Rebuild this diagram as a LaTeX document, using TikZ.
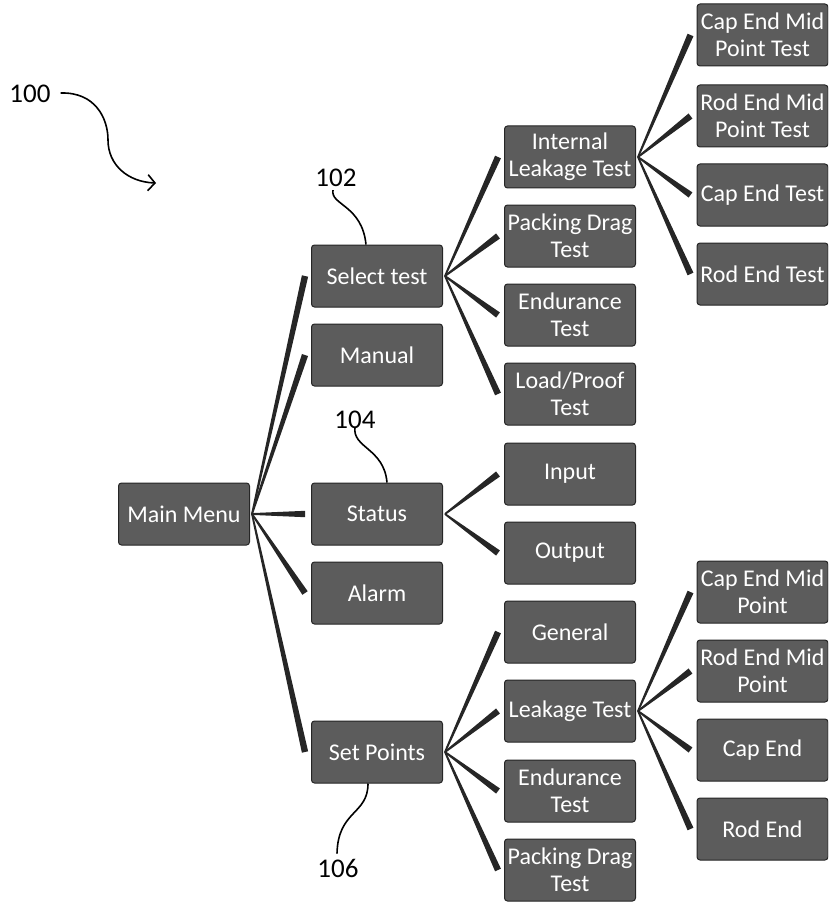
\documentclass[tikz,border=0pt]{standalone}
\usepackage{fontspec}
\setmainfont{Carlito}
\usetikzlibrary{calc,arrows.meta,positioning}

\tikzset{
    menubox/.style={draw=black!85, line width=1pt, fill=black!64, rounded corners=3pt,
        text=white, align=center, minimum width=131pt, minimum height=62pt,
        inner xsep=1pt, inner ysep=0pt, font=\fontsize{24}{27}\selectfont},
    reflabel/.style={font=\fontsize{27}{30}\selectfont, inner sep=0pt},
    leader/.style={line width=1.6pt, black}
}
\newcommand{\spoke}[2]{%
    \coordinate (sp-s) at ($(#1.east)+(2,0)$);
    \coordinate (sp-e) at ($(#2.west)+(-6,0)$);
    \fill[black!85] ($(sp-s)!0.9pt!90:(sp-e)$) -- ($(sp-e)!3.2pt!-90:(sp-s)$) -- ($(sp-e)!3.2pt!90:(sp-s)$) -- ($(sp-s)!0.9pt!-90:(sp-e)$) -- cycle;}

\begin{document}
\begin{tikzpicture}[x=1pt,y=-1pt]
        \useasboundingbox (0,0) rectangle (828,904);
        \clip (0,0) rectangle (828,904);

        \node [menubox] (main) at (184,514) {Main Menu};

        \node [menubox] (select) at (377,276) {Select test};
        \node [menubox] (manual) at (377,355) {Manual};
        \node [menubox] (status) at (377,514) {Status};
        \node [menubox] (alarm) at (377,593) {Alarm};
        \node [menubox] (setpts) at (377,752) {Set Points};

        \node [menubox] (ileak) at (570,157) {Internal\\Leakage Test};
        \node [menubox] (pdrag) at (570,236) {Packing Drag\\Test};
        \node [menubox] (endur) at (570,315) {Endurance\\Test};
        \node [menubox] (proof) at (570,394) {Load/Proof\\Test};
        \node [menubox] (input) at (570,474) {Input};
        \node [menubox] (output) at (570,553) {Output};
        \node [menubox] (general) at (570,632) {General};
        \node [menubox] (leak) at (570,711) {Leakage Test};
        \node [menubox] (endurb) at (570,791) {Endurance\\Test};
        \node [menubox] (pdragb) at (570,870) {Packing Drag\\Test};

        \node [menubox] (capmid) at (762.5,35) {Cap End Mid\\Point Test};
        \node [menubox] (rodmid) at (762.5,116) {Rod End Mid\\Point Test};
        \node [menubox] (capend) at (762.5,195) {Cap End Test};
        \node [menubox] (rodend) at (762.5,274) {Rod End Test};
        \node [menubox] (capmidb) at (762.5,592) {Cap End Mid\\Point};
        \node [menubox] (rodmidb) at (762.5,671) {Rod End Mid\\Point};
        \node [menubox] (capendb) at (762.5,750) {Cap End};
        \node [menubox] (rodendb) at (762.5,829) {Rod End};

        \foreach \b in {select,manual,status,alarm,setpts} {\spoke{main}{\b}}
        \foreach \b in {ileak,pdrag,endur,proof} {\spoke{select}{\b}}
        \foreach \b in {input,output} {\spoke{status}{\b}}
        \foreach \b in {general,leak,endurb,pdragb} {\spoke{setpts}{\b}}
        \foreach \b in {capmid,rodmid,capend,rodend} {\spoke{ileak}{\b}}
        \foreach \b in {capmidb,rodmidb,capendb,rodendb} {\spoke{leak}{\b}}

        \node [reflabel] (l100) at (30,94) {100};
        \node [reflabel] (l102) at (336,178) {102};
        \node [reflabel] (l104) at (355,420) {104};
        \node [reflabel] (l106) at (338,868) {106};

        \coordinate (tip100) at (156,183);
        \draw [leader,-{Straight Barb[length=7pt,width=16pt]}] ($(l100.east)+(10,-1)$) .. controls (95,92) and (108,118) .. (108,140) .. controls (108,165) and (128,182) .. (tip100);
        \draw [leader] ($(l102.south)+(-3,3)$) .. controls (330,205) and (362,205) .. ($(select.north)+(-11,0)$);
        \draw [leader] ($(l104.south)+(0,-2)$) .. controls (352,448) and (384,448) .. ($(status.north)+(10,0)$);
        \draw [leader] ($(l106.north)+(-1,-5)$) .. controls (338,810) and (368,815) .. ($(setpts.south)+(-9,0)$);
\end{tikzpicture}
\end{document}
